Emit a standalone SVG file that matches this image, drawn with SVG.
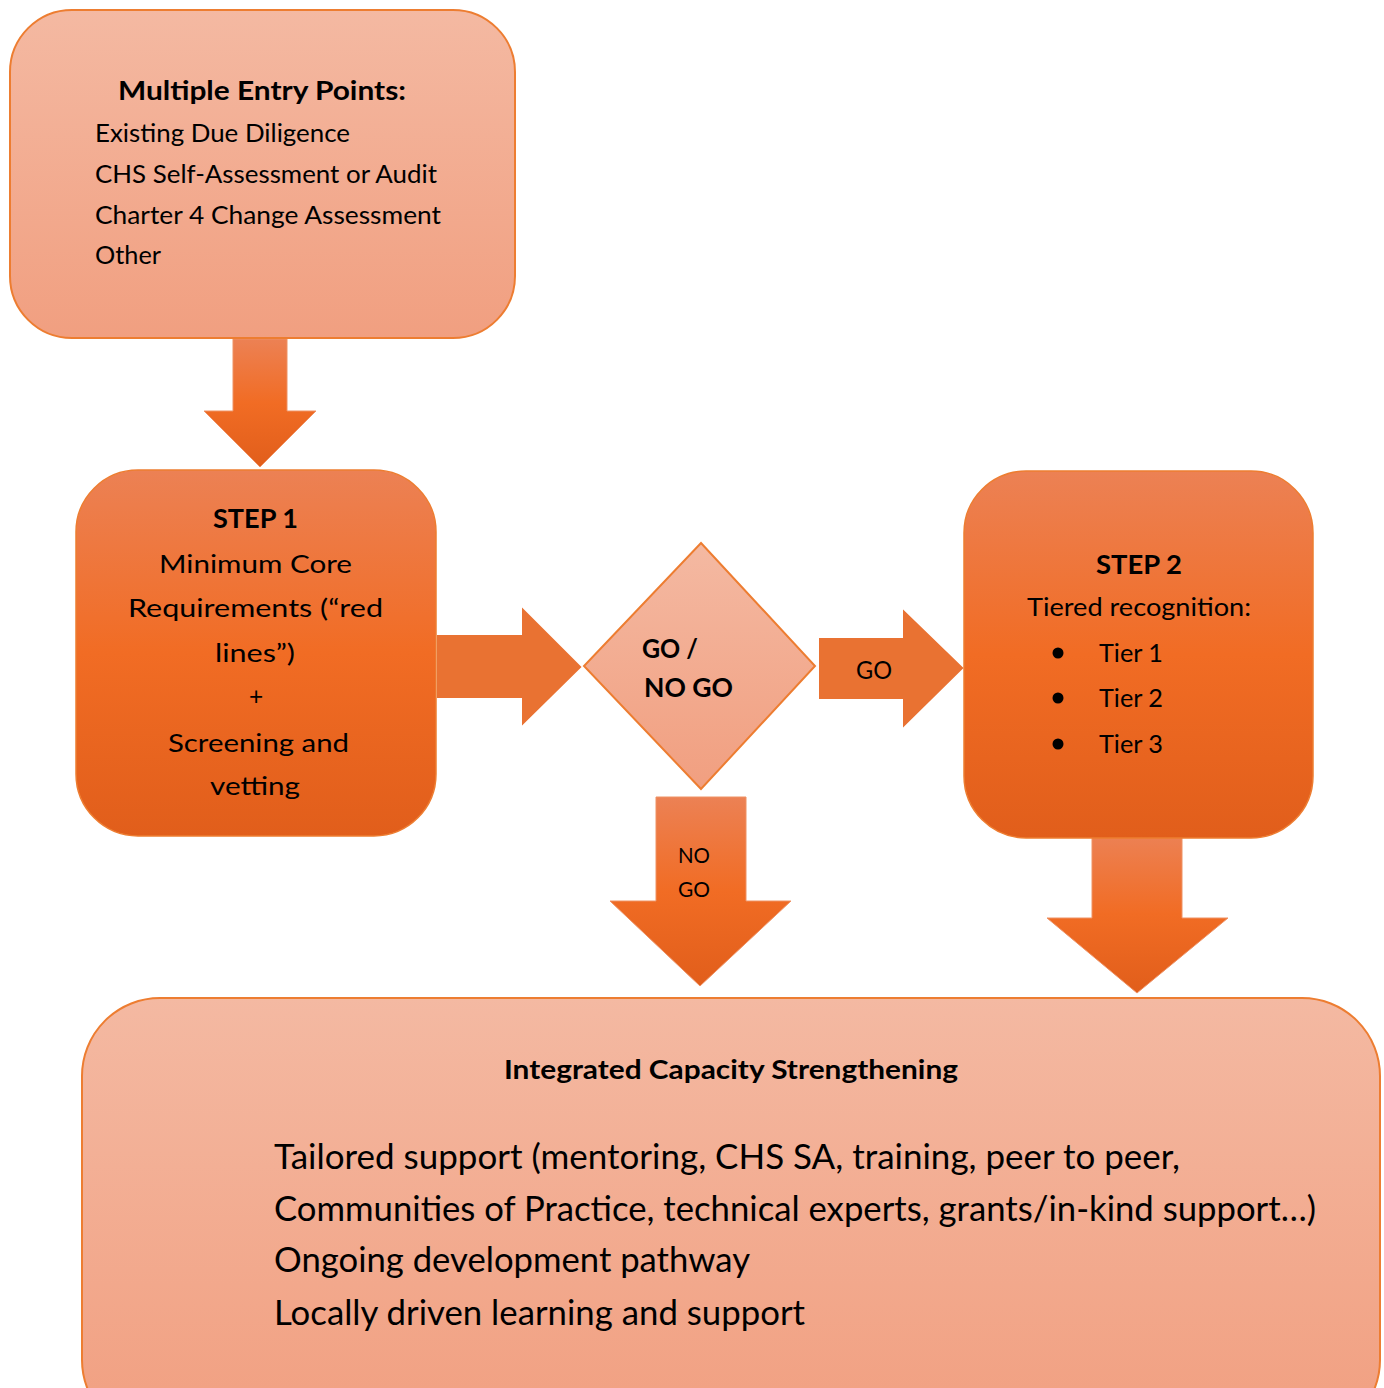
<svg xmlns="http://www.w3.org/2000/svg" width="1384" height="1388" viewBox="0 0 1384 1388">
  <defs>
    <linearGradient id="gLight" x1="0" y1="0" x2="0" y2="1">
      <stop offset="0" stop-color="#F4B9A2"/>
      <stop offset="1" stop-color="#F19F80"/>
    </linearGradient>
    <linearGradient id="gOrange" x1="0" y1="0" x2="0" y2="1">
      <stop offset="0" stop-color="#EC8154"/>
      <stop offset="0.5" stop-color="#F16C24"/>
      <stop offset="1" stop-color="#E15E1B"/>
    </linearGradient>
    <style>
      .light { fill: url(#gLight); stroke: #ED7D31; stroke-width: 2; }
      .orange { fill: url(#gOrange); stroke: #ED7D31; stroke-width: 1.5; }
      .arrowV { fill: url(#gOrange); stroke: #EE9265; stroke-width: 1; }
      .arrowH { fill: #E97232; stroke: #FFFFFF; stroke-width: 2; }
      text { font-family: Lato, "Open Sans", "Liberation Sans", sans-serif; fill: #000000; }
      .b { font-weight: bold; }
      .t24 { font-size: 24.5px; }
      .t26 { font-size: 26px; }
      .t22 { font-size: 22px; }
      .t35 { font-size: 35px; }
    </style>
  </defs>

  <g id="connectors">
    <polygon class="arrowV" points="233,339 287,339 287,411 316,411 260,467 204,411 233,411"/>
    <polygon class="arrowH" points="436,634 521,634 521,605 583,667 521,728 521,699 436,699"/>
    <polygon class="arrowH" points="818,637 902,637 902,607 965,668 902,730 902,700 818,700"/>
    <polygon class="arrowV" points="656,797 746,797 746,901 791,901 700,986 610,901 656,901"/>
    <polygon class="arrowV" points="1092,835 1182,835 1182,918 1228,918 1137,993 1047,918 1092,918"/>
    <text class="t24" x="856" y="679" textLength="36" lengthAdjust="spacingAndGlyphs">GO</text>
    <text class="t22" x="678" y="863" textLength="32" lengthAdjust="spacingAndGlyphs">NO</text>
    <text class="t22" x="678" y="897" textLength="32" lengthAdjust="spacingAndGlyphs">GO</text>
  </g>

  <g id="entry-points">
    <rect class="light" x="10" y="10" width="505" height="328" rx="62" ry="62"/>
    <text class="t26 b" x="118" y="100" textLength="288" lengthAdjust="spacingAndGlyphs">Multiple Entry Points:</text>
    <text class="t24" x="95" y="142" textLength="255" lengthAdjust="spacingAndGlyphs">Existing Due Diligence</text>
    <text class="t24" x="95" y="183" textLength="342" lengthAdjust="spacingAndGlyphs">CHS Self-Assessment or Audit</text>
    <text class="t24" x="95" y="224" textLength="346" lengthAdjust="spacingAndGlyphs">Charter 4 Change Assessment</text>
    <text class="t24" x="95" y="264" textLength="66" lengthAdjust="spacingAndGlyphs">Other</text>
  </g>

  <g id="step1">
    <rect class="orange" x="76" y="470" width="360" height="366" rx="62" ry="62"/>
    <text class="t26 b" x="213" y="528" textLength="85" lengthAdjust="spacingAndGlyphs">STEP 1</text>
    <text class="t24" x="159" y="573" textLength="193" lengthAdjust="spacingAndGlyphs">Minimum Core</text>
    <text class="t24" x="128" y="617" textLength="255" lengthAdjust="spacingAndGlyphs">Requirements (“red</text>
    <text class="t24" x="215" y="662" textLength="80" lengthAdjust="spacingAndGlyphs">lines”)</text>
    <text class="t24" x="256" y="705" text-anchor="middle">+</text>
    <text class="t24" x="168" y="752" textLength="181" lengthAdjust="spacingAndGlyphs">Screening and</text>
    <text class="t24" x="210" y="795" textLength="90" lengthAdjust="spacingAndGlyphs">vetting</text>
  </g>

  <g id="decision">
    <polygon class="light" points="701,543 815,666 701,789 584,666"/>
    <text class="t26 b" x="642" y="658" textLength="56" lengthAdjust="spacingAndGlyphs">GO /</text>
    <text class="t26 b" x="644" y="697" textLength="89" lengthAdjust="spacingAndGlyphs">NO GO</text>
  </g>

  <g id="step2">
    <rect class="orange" x="964" y="471" width="349" height="367" rx="62" ry="62"/>
    <text class="t26 b" x="1096" y="574" textLength="86" lengthAdjust="spacingAndGlyphs">STEP 2</text>
    <text class="t24" x="1027" y="616" textLength="224" lengthAdjust="spacingAndGlyphs">Tiered recognition:</text>
    <circle cx="1058" cy="653" r="5.5" fill="#000000"/>
    <circle cx="1058" cy="698" r="5.5" fill="#000000"/>
    <circle cx="1058" cy="744" r="5.5" fill="#000000"/>
    <text class="t24" x="1099" y="662" textLength="64" lengthAdjust="spacingAndGlyphs">Tier 1</text>
    <text class="t24" x="1099" y="707" textLength="64" lengthAdjust="spacingAndGlyphs">Tier 2</text>
    <text class="t24" x="1099" y="753" textLength="64" lengthAdjust="spacingAndGlyphs">Tier 3</text>
  </g>

  <g id="capacity">
    <rect class="light" x="82" y="998" width="1298" height="440" rx="78" ry="78"/>
    <text class="t26 b" x="504" y="1079" textLength="454" lengthAdjust="spacingAndGlyphs">Integrated Capacity Strengthening</text>
    <text class="t35" x="274" y="1169" textLength="906" lengthAdjust="spacingAndGlyphs">Tailored support (mentoring, CHS SA, training, peer to peer,</text>
    <text class="t35" x="274" y="1221" textLength="1042" lengthAdjust="spacingAndGlyphs">Communities of Practice, technical experts, grants/in-kind support…)</text>
    <text class="t35" x="274" y="1272" textLength="476" lengthAdjust="spacingAndGlyphs">Ongoing development pathway</text>
    <text class="t35" x="274" y="1325" textLength="531" lengthAdjust="spacingAndGlyphs">Locally driven learning and support</text>
  </g>
</svg>
